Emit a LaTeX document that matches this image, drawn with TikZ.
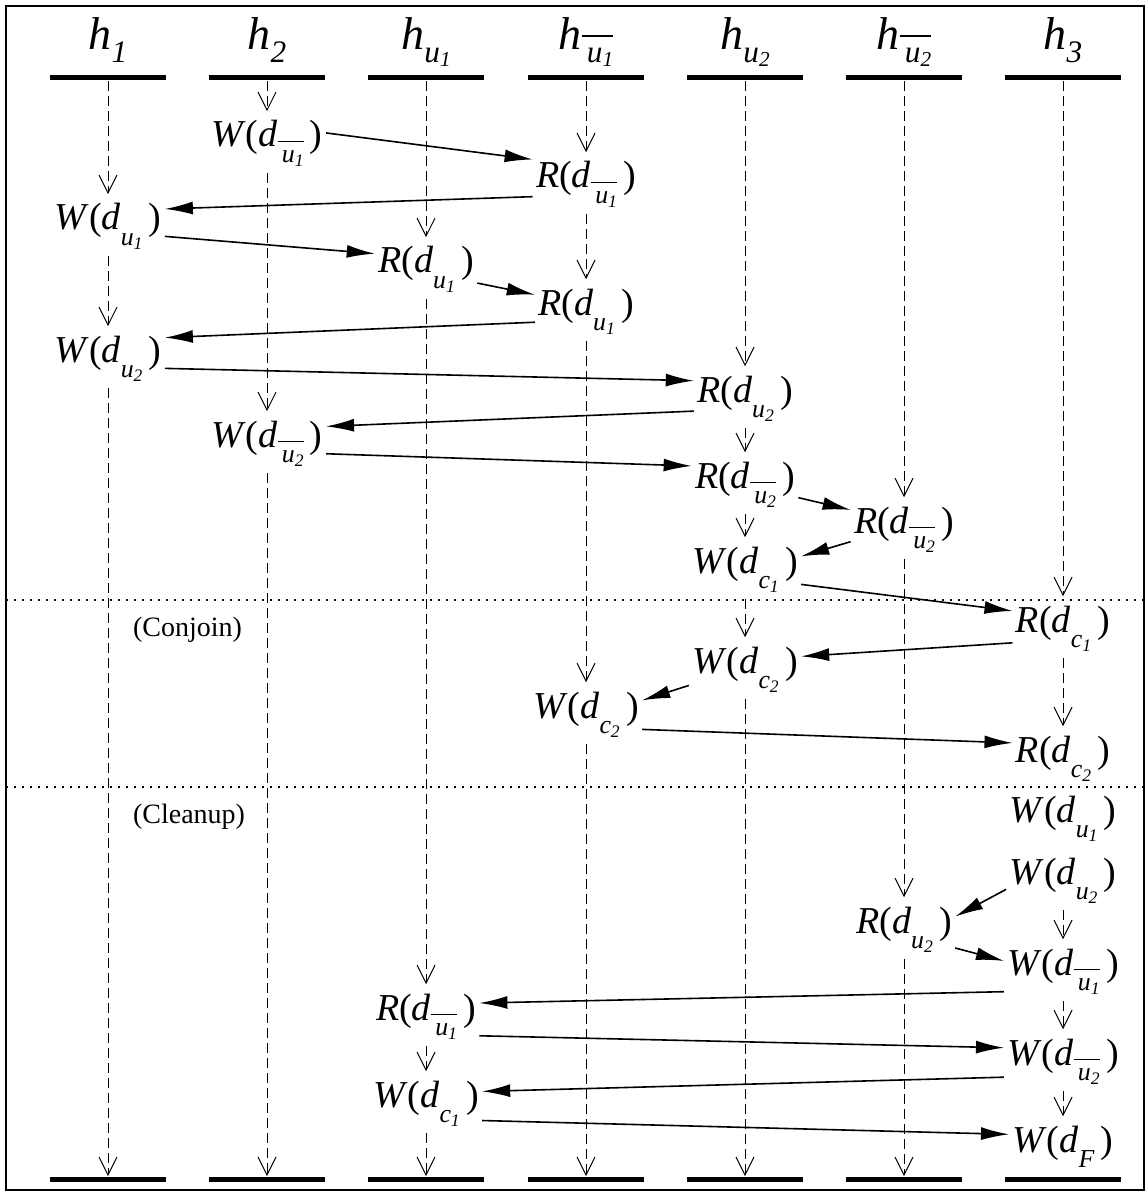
\documentclass[tikz,border=0pt]{standalone}
\usepackage{amsmath}
\usepackage{graphicx}
\usepackage{fontspec}
\setmainfont{Liberation Serif}
\usetikzlibrary{arrows.meta}
\newcommand{\sbx}[2][0.42em]{\raisebox{-#1}{\scalebox{0.68}{#2}}}
\newcommand{\subu}[1]{\textit{u}\sbx[0.12em]{\textit{#1}}}
\newcommand{\subub}[1]{$\overline{\vphantom{\textit{d}}\mbox{\,\subu{#1}}}$}
\newcommand{\subc}[1]{\textit{c}\sbx[0.12em]{\textit{#1}}}
\newcommand{\evt}[2]{\textit{#1\/}(\textit{d}\sbx{#2}\,)}
\tikzset{
  barra/.style={rectangle, fill=black, minimum width=58pt, minimum height=2.5pt, inner sep=0pt},
  titulo/.style={anchor=base, font=\fontsize{23}{26}\selectfont},
  evento/.style={anchor=base, inner sep=1.5pt, font=\fontsize{19}{21}\selectfont},
  fase/.style={anchor=base west, font=\fontsize{14}{16}\selectfont},
  vida/.style={line width=0.5pt, dash pattern=on 5pt off 2.5pt, -{Straight Barb[length=9pt,width=9pt]}, shorten <=2pt, shorten >=3pt},
  msg/.style={line width=0.8pt, -{Latex[length=14pt,width=6.5pt]}},
  corte/.style={line width=1pt, dash pattern=on 1pt off 3pt}
}
\begin{document}
\begin{tikzpicture}[x=0.5pt, y=-0.5pt]
  \useasboundingbox (0,0) rectangle (1146,1192);
  \draw[line width=1.2pt] (6,6) rectangle (1144,1190);
  % titulos y barras de cada linea de tiempo
  \node (l1) [titulo] at (108,50) {\textit{h}\sbx[0.27em]{\textit{1}}};
  \node (l2) [titulo] at (267,50) {\textit{h}\sbx[0.27em]{\textit{2}}};
  \node (l3) [titulo] at (426,50) {\textit{h}\sbx[0.27em]{\subu{1}}};
  \node (l4) [titulo] at (586,50) {\textit{h}\sbx[0.27em]{\subub{1}}};
  \node (l5) [titulo] at (745,50) {\textit{h}\sbx[0.27em]{\subu{2}}};
  \node (l6) [titulo] at (904,50) {\textit{h}\sbx[0.27em]{\subub{2}}};
  \node (l7) [titulo] at (1063,50) {\textit{h}\sbx[0.27em]{\textit{3}}};
  \node (t1) [barra] at (108,78) {};
  \node (t2) [barra] at (267,78) {};
  \node (t3) [barra] at (426,78) {};
  \node (t4) [barra] at (586,78) {};
  \node (t5) [barra] at (745,78) {};
  \node (t6) [barra] at (904,78) {};
  \node (t7) [barra] at (1063,78) {};
  \node (b1) [barra] at (108,1179) {};
  \node (b2) [barra] at (267,1179) {};
  \node (b3) [barra] at (426,1179) {};
  \node (b4) [barra] at (586,1179) {};
  \node (b5) [barra] at (745,1179) {};
  \node (b6) [barra] at (904,1179) {};
  \node (b7) [barra] at (1063,1179) {};
  % separadores de fase
  \draw[corte] (6,600) -- (1146,600);
  \draw[corte] (6,787) -- (1146,787);
  \node (conj) [fase] at (126,636) {(Conjoin)};
  \node (clean) [fase] at (126,823) {(Cleanup)};
  % eventos
  \node (wu1a) [evento] at (108,230) {\evt{W}{\subu{1}}};
  \node (wu2a) [evento] at (108,362) {\evt{W}{\subu{2}}};
  \node (wnu1b) [evento] at (267,147) {\evt{W}{\subub{1}}};
  \node (wnu2b) [evento] at (267,447) {\evt{W}{\subub{2}}};
  \node (ru1c) [evento] at (426,273) {\evt{R}{\subu{1}}};
  \node (rnu1c) [evento] at (426,1020) {\evt{R}{\subub{1}}};
  \node (wc1c) [evento] at (426,1107) {\evt{W}{\subc{1}}};
  \node (rnu1d) [evento] at (586,188) {\evt{R}{\subub{1}}};
  \node (ru1d) [evento] at (586,315) {\evt{R}{\subu{1}}};
  \node (wc2d) [evento] at (586,718) {\evt{W}{\subc{2}}};
  \node (ru2e) [evento] at (745,402) {\evt{R}{\subu{2}}};
  \node (rnu2e) [evento] at (745,488) {\evt{R}{\subub{2}}};
  \node (wc1e) [evento] at (745,573) {\evt{W}{\subc{1}}};
  \node (wc2e) [evento] at (745,673) {\evt{W}{\subc{2}}};
  \node (rnu2f) [evento] at (904,533) {\evt{R}{\subub{2}}};
  \node (ru2f) [evento] at (904,933) {\evt{R}{\subu{2}}};
  \node (rc1g) [evento] at (1063,632) {\evt{R}{\subc{1}}};
  \node (rc2g) [evento] at (1063,762) {\evt{R}{\subc{2}}};
  \node (wu1g) [evento] at (1063,822) {\evt{W}{\subu{1}}};
  \node (wu2g) [evento] at (1063,884) {\evt{W}{\subu{2}}};
  \node (wnu1g) [evento] at (1063,975) {\evt{W}{\subub{1}}};
  \node (wnu2g) [evento] at (1063,1065) {\evt{W}{\subub{2}}};
  \node (wfg) [evento] at (1063,1152) {\evt{W}{\textit{F}}};
  % lineas de vida (discontinuas)
  \draw[vida, shorten <=0pt] (t1.south) -- (wu1a.north);
  \draw[vida] (wu1a.south) -- (wu2a.north);
  \draw[vida, shorten >=0pt] (wu2a.south) -- (b1.north);
  \draw[vida, shorten <=0pt] (t2.south) -- (wnu1b.north);
  \draw[vida] (wnu1b.south) -- (wnu2b.north);
  \draw[vida, shorten >=0pt] (wnu2b.south) -- (b2.north);
  \draw[vida, shorten <=0pt] (t3.south) -- (ru1c.north);
  \draw[vida] (ru1c.south) -- (rnu1c.north);
  \draw[vida] (rnu1c.south) -- (wc1c.north);
  \draw[vida, shorten >=0pt] (wc1c.south) -- (b3.north);
  \draw[vida, shorten <=0pt] (t4.south) -- (rnu1d.north);
  \draw[vida] (rnu1d.south) -- (ru1d.north);
  \draw[vida] (ru1d.south) -- (wc2d.north);
  \draw[vida, shorten >=0pt] (wc2d.south) -- (b4.north);
  \draw[vida, shorten <=0pt] (t5.south) -- (ru2e.north);
  \draw[vida] (ru2e.south) -- (rnu2e.north);
  \draw[vida] (rnu2e.south) -- (wc1e.north);
  \draw[vida] (wc1e.south) -- (wc2e.north);
  \draw[vida, shorten >=0pt] (wc2e.south) -- (b5.north);
  \draw[vida, shorten <=0pt] (t6.south) -- (rnu2f.north);
  \draw[vida] (rnu2f.south) -- (ru2f.north);
  \draw[vida, shorten >=0pt] (ru2f.south) -- (b6.north);
  \draw[vida, shorten <=0pt] (t7.south) -- (rc1g.north);
  \draw[vida] (rc1g.south) -- (rc2g.north);
  \draw[vida] (wu2g.south) -- (wnu1g.north);
  \draw[vida] (wnu1g.south) -- (wnu2g.north);
  \draw[vida] (wnu2g.south) -- (wfg.north);
  % mensajes
  \draw[msg] (wnu1b.10) -- (rnu1d.155);
  \draw[msg] (rnu1d.193) -- (wu1a.17);
  \draw[msg] (wu1a.-10) -- (ru1c.163);
  \draw[msg] (ru1c.-15) -- (ru1d.162);
  \draw[msg] (ru1d.192) -- (wu2a.20);
  \draw[msg] (wu2a.-10) -- (ru2e.161);
  \draw[msg] (ru2e.194) -- (wnu2b.16);
  \draw[msg] (wnu2b.-10) -- (rnu2e.161);
  \draw[msg] (rnu2e.-14) -- (rnu2f.160);
  \draw[msg] (rnu2f.193) -- (wc1e.13);
  \draw[msg] (wc1e.-15) -- (rc1g.161);
  \draw[msg] (rc1g.196) -- (wc2e.13);
  \draw[msg] (wc2e.196) -- (wc2d.14);
  \draw[msg] (wc2d.-15) -- (rc2g.163);
  \draw[msg] (wu2g.189) -- (ru2f.14);
  \draw[msg] (ru2f.-20) -- (wnu1g.170);
  \draw[msg] (wnu1g.199) -- (rnu1c.14);
  \draw[msg] (rnu1c.-20) -- (wnu2g.167);
  \draw[msg] (wnu2g.195) -- (wc1c.12);
  \draw[msg] (wc1c.-17) -- (wfg.167);
\end{tikzpicture}
\end{document}
